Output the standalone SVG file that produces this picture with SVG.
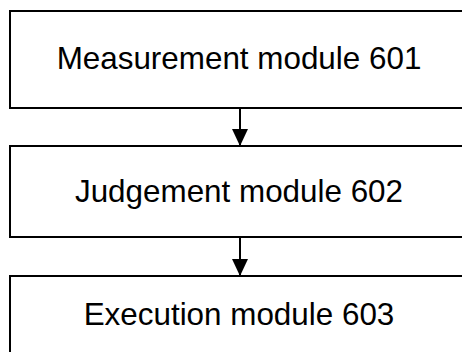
<svg xmlns="http://www.w3.org/2000/svg" width="462" height="352" viewBox="0 0 462 352">
<style>
.box{fill:#fff;stroke:#000;stroke-width:2}
.lbl{font-family:"Liberation Sans",Arial,sans-serif;font-size:31.4px;fill:#000;text-anchor:middle}
.conn{stroke:#000;stroke-width:2;fill:none}
</style>
<defs>
<marker id="ah" markerUnits="userSpaceOnUse" markerWidth="18" markerHeight="18" refX="17" refY="9" orient="auto">
<path d="M0,1 L17,9 L0,17 Z" fill="#000"/>
</marker>
</defs>
<rect width="462" height="352" fill="#fff"/>
<g id="n601">
<rect class="box" x="10" y="11" width="460" height="97"/>
<text class="lbl" x="239" y="69">Measurement module 601</text>
</g>
<g id="n602">
<rect class="box" x="10" y="146" width="460" height="91"/>
<text class="lbl" x="239" y="202">Judgement module 602</text>
</g>
<g id="n603">
<rect class="box" x="10" y="276" width="460" height="90"/>
<text class="lbl" x="239" y="325">Execution module 603</text>
</g>
<g id="connectors">
<line class="conn" x1="240" y1="108" x2="240" y2="146" marker-end="url(#ah)"/>
<line class="conn" x1="240" y1="237" x2="240" y2="276" marker-end="url(#ah)"/>
</g>
</svg>
